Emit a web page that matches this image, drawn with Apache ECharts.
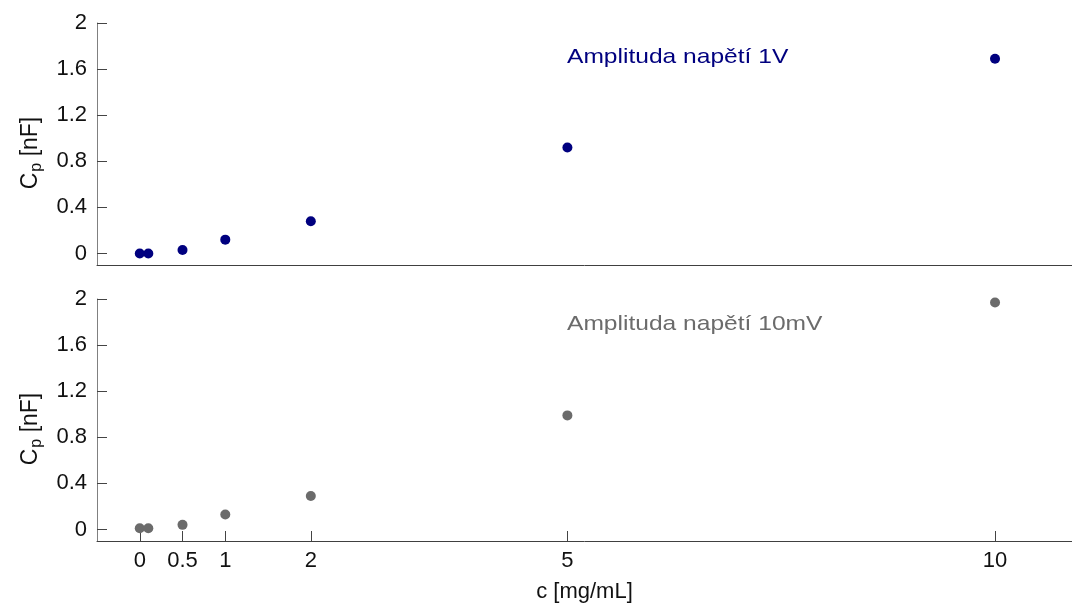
<!DOCTYPE html>
<html>
<head>
<meta charset="utf-8">
<script src="https://cdn.jsdelivr.net/npm/echarts@6/dist/echarts.min.js"></script>
<style>
  html, body { margin: 0; padding: 0; background: #fff; }
  #chart { width: 1072px; height: 607px; }
</style>
</head>
<body>
<div id="chart"></div>
<script>
// concentration c [mg/mL]
const conc = [0, 0.1, 0.5, 1, 2, 5, 10];
// Cp [nF] at 1 V amplitude
const cp1V = [0.0, 0.0, 0.03, 0.12, 0.28, 0.92, 1.69];
// Cp [nF] at 10 mV amplitude
const cp10mV = [0.01, 0.01, 0.04, 0.13, 0.29, 0.99, 1.97];
const xTicks = [0, 0.5, 1, 2, 5, 10];
const yTicks = [0, 0.4, 0.8, 1.2, 1.6, 2];

const FONT = "Liberation Sans";
const NAVY = "#00007f";
const GREY = "#6b6b6b";

const chart = echarts.init(document.getElementById("chart"));

function yAxis(gridIndex) {
  return {
    type: "value",
    gridIndex,
    min: -0.1,
    max: 2,
    name: "{c|C}{s|p}{c| [nF]}",
    nameLocation: "middle",
    nameRotate: 90,
    nameGap: 52,
    nameTextStyle: {
      padding: [0, 18, 0, 0],
      rich: {
        c: { fontFamily: FONT, fontSize: 23, color: "#111" },
        s: { fontFamily: FONT, fontSize: 16, color: "#111", padding: [13, 0, 0, 1] },
      },
    },
    axisLine: { show: true, onZero: false, lineStyle: { color: "#808080", width: 1 } },
    axisTick: { show: true, inside: true, length: 10, customValues: yTicks, lineStyle: { color: "#444" } },
    axisLabel: { customValues: yTicks, margin: 10, fontFamily: FONT, fontSize: 22, color: "#111" },
    splitLine: { show: false },
  };
}

function xAxis(gridIndex, withLabels) {
  const ax = {
    type: "value",
    gridIndex,
    min: -0.5,
    max: 10.9,
    axisLine: { show: true, onZero: false, lineStyle: { color: "#404040" } },
    axisTick: { show: false },
    axisLabel: { show: false },
    splitLine: { show: false },
  };
  if (withLabels) {
    ax.name = "c [mg/mL]";
    ax.nameLocation = "middle";
    ax.nameGap = 40;
    ax.nameTextStyle = { fontFamily: FONT, fontSize: 22, color: "#111" };
    ax.axisTick = { show: true, inside: true, length: 10, customValues: xTicks, lineStyle: { color: "#444" } };
    ax.axisLabel = { customValues: xTicks, margin: 9, fontFamily: FONT, fontSize: 22, color: "#111" };
  }
  return ax;
}

chart.setOption({
  animation: false,
  grid: [
    { left: 97, top: 23, right: 0, height: 242 },
    { left: 97, top: 299, right: 0, height: 242 },
  ],
  xAxis: [xAxis(0, false), xAxis(1, true)],
  yAxis: [yAxis(0), yAxis(1)],
  graphic: [
    {
      type: "text",
      left: 567,
      top: 47,
      scaleX: 1.17,
      style: { text: "Amplituda napětí 1V", fill: NAVY, font: "21px " + FONT },
    },
    {
      type: "text",
      left: 567,
      top: 314,
      scaleX: 1.17,
      style: { text: "Amplituda napětí 10mV", fill: GREY, font: "21px " + FONT },
    },
  ],
  series: [
    {
      type: "scatter",
      xAxisIndex: 0,
      yAxisIndex: 0,
      symbolSize: 10,
      itemStyle: { color: NAVY, opacity: 1 },
      data: conc.map((c, i) => [c, cp1V[i]]),
    },
    {
      type: "scatter",
      xAxisIndex: 1,
      yAxisIndex: 1,
      symbolSize: 10,
      itemStyle: { color: GREY, opacity: 1 },
      data: conc.map((c, i) => [c, cp10mV[i]]),
    },
  ],
});
</script>
</body>
</html>
